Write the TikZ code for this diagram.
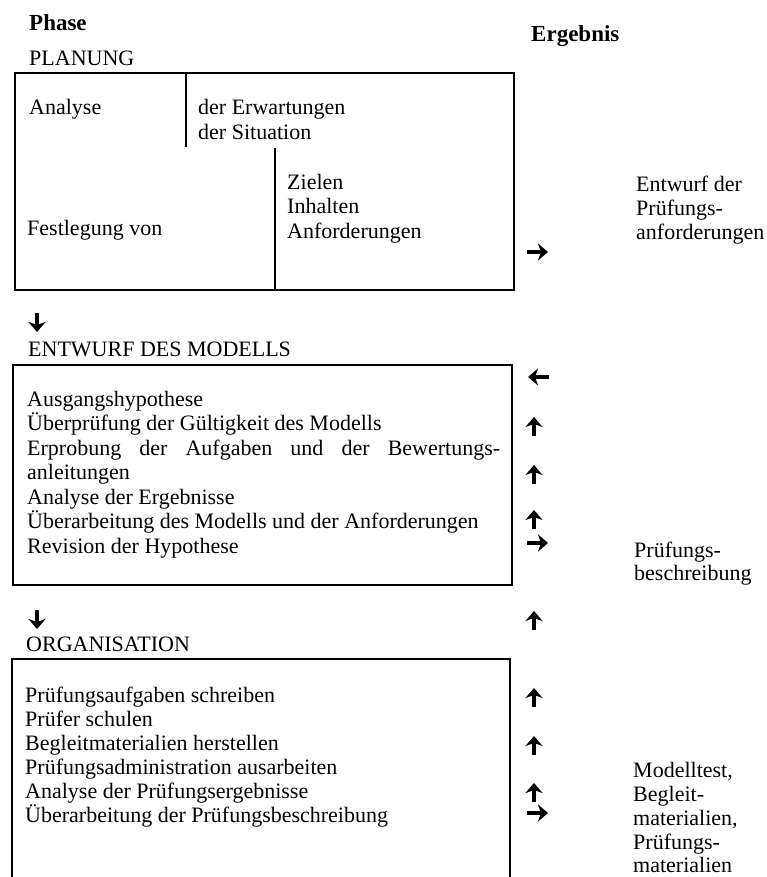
\documentclass[tikz,border=0pt]{standalone}
\usepackage{fontspec}
\setmainfont{Liberation Serif}
\usetikzlibrary{arrows.meta}

\tikzset{
  txt/.style={anchor=base west, inner sep=0pt, font=\fontsize{22}{24}\selectfont},
  head/.style={anchor=base west, inner sep=0pt, font=\fontsize{23}{26}\selectfont\bfseries},
  frame/.style={line width=1.3pt},
  bigarrow/.style={line width=4.6pt, -{Stealth[length=10pt,width=17pt,inset=3pt]}}
}

\begin{document}
\begin{tikzpicture}[x=1pt,y=-1pt]
			%%%%% START %%%%%
			\useasboundingbox (0,0) rectangle (767,877);
			\fill[white] (0,0) rectangle (767,877);
			
			\node[head] (phase) at (29,31) {Phase};
			\node[head] (ergebnis) at (531,42) {Ergebnis};
			
			%% Planung
			\node[txt] (planung) at (29,66) {PLANUNG};
			\draw[frame] (15,73) rectangle (514,290);
			\draw[frame] (186,73) -- (186,147);
			\draw[frame] (275,148) -- (275,290);
			
			\node[txt] (analyse) at (29,115) {Analyse};
			\node[txt] (erw) at (198,115) {der Erwartungen};
			\node[txt] (sit) at (198,140) {der Situation};
			\node[txt] (festl) at (27,236) {Festlegung von};
			\node[txt] (ziel) at (287,190) {Zielen};
			\node[txt] (inh) at (287,214) {Inhalten};
			\node[txt] (anf) at (287,238) {Anforderungen};
			
			\node[txt] (e1) at (636,192) {Entwurf der};
			\node[txt] (e2) at (636,216) {Prüfungs-};
			\node[txt] (e3) at (636,240) {anforderungen};
			
			%% Entwurf des Modells
			\node[txt] (entwurf) at (28,356) {ENTWURF DES MODELLS};
			\draw[frame] (13,365) rectangle (512,585);
			
			\node[txt] (m1) at (27,406) {Ausgangshypothese};
			\node[txt] (m2) at (27,430.5) {Überprüfung der Gültigkeit des Modells};
			\node[txt] (m3) at (27,455) {\makebox[473pt][s]{Erprobung der Aufgaben und der Bewertungs-}};
			\node[txt] (m4) at (27,479.5) {anleitungen};
			\node[txt] (m5) at (27,504) {Analyse der Ergebnisse};
			\node[txt] (m6) at (27,528.5) {Überarbeitung des Modells und der Anforderungen};
			\node[txt] (m7) at (27,553) {Revision der Hypothese};
			
			\node[txt] (b1) at (634,557) {Prüfungs-};
			\node[txt] (b2) at (634,580) {beschreibung};
			
			%% Organisation
			\node[txt] (org) at (26,651) {ORGANISATION};
			\draw[frame] (12,877) -- (12,659) -- (510,659) -- (510,877);
			
			\node[txt] (o1) at (25,702) {Prüfungsaufgaben schreiben};
			\node[txt] (o2) at (25,726) {Prüfer schulen};
			\node[txt] (o3) at (25,750) {Begleitmaterialien herstellen};
			\node[txt] (o4) at (25,774) {Prüfungsadministration ausarbeiten};
			\node[txt] (o5) at (25,798) {Analyse der Prüfungsergebnisse};
			\node[txt] (o6) at (25,822) {Überarbeitung der Prüfungsbeschreibung};
			
			\node[txt] (r1) at (633,777) {Modelltest,};
			\node[txt] (r2) at (633,801) {Begleit-};
			\node[txt] (r3) at (633,825) {materialien,};
			\node[txt] (r4) at (633,849) {Prüfungs-};
			\node[txt] (r5) at (633,872) {materialien};
			
			%% arrows
			\coordinate (d1) at (37,313);
			\coordinate (d2) at (37,610);
			\draw[bigarrow] (d1) -- ++(0,19);
			\draw[bigarrow] (d2) -- ++(0,19);
			
			\coordinate (p1) at (527,252);
			\coordinate (p2) at (527,543);
			\coordinate (p3) at (527,813);
			\foreach \p in {p1,p2,p3}
				\draw[bigarrow] (\p) -- ++(21,0);
			
			\coordinate (back) at (549,377);
			\draw[bigarrow] (back) -- ++(-21,0);
			
			\foreach \y [count=\i] in {427,475,520,621,698,746,793} {
				\coordinate (u\i) at (534,\y+9);
				\draw[bigarrow] (u\i) -- ++(0,-19);
			}
			%%%%% END %%%%%
\end{tikzpicture}
\end{document}
